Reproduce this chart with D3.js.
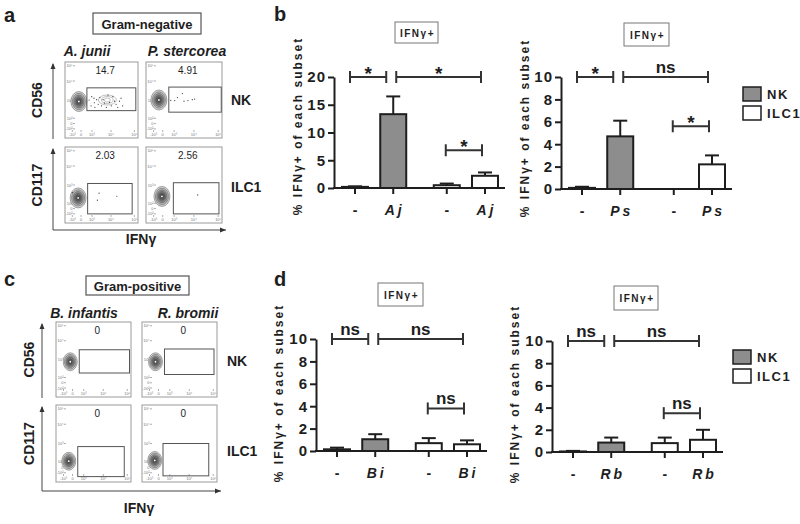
<!DOCTYPE html>
<html><head><meta charset="utf-8">
<script src="https://cdn.jsdelivr.net/npm/d3@7"></script>
<style>body{margin:0;background:#fff}svg{display:block}</style>
</head><body>
<svg id="fig" width="800" height="524"></svg>
<script>
// ---------------- DATA ----------------
const subsets = ["NK", "ILC1"];
const barSubset = ["NK", "NK", "ILC1", "ILC1"];
const ticks20 = [0, 5, 10, 15, 20];
const ticks10 = [0, 2, 4, 6, 8, 10];
const yLabel = "% IFNγ+ of each subset";
const chartTitle = "IFNγ+";

const bLeftLabels = ["-", "Aj", "-", "Aj"];
const bLeftMeans = [0.2, 13.3, 0.5, 2.2];
const bLeftErrTop = [0.3, 16.5, 0.8, 2.8];
const bLeftSig = ["*", "*", "*"];
const bLeftSigAt = [20, 20, 6.8];

const bRightLabels = ["-", "Ps", "-", "Ps"];
const bRightMeans = [0.1, 4.7, 0, 2.2];
const bRightErrTop = [0.2, 6.1, 0, 3.0];
const bRightSig = ["*", "ns", "*"];
const bRightSigAt = [10, 10, 5.6];

const dLeftLabels = ["-", "Bi", "-", "Bi"];
const dLeftMeans = [0.15, 1.05, 0.7, 0.6];
const dLeftErrTop = [0.3, 1.5, 1.15, 0.95];
const dLeftSig = ["ns", "ns", "ns"];
const dLeftSigAt = [10, 10, 3.8];

const dRightLabels = ["-", "Rb", "-", "Rb"];
const dRightMeans = [0.05, 0.85, 0.8, 1.1];
const dRightErrTop = [0.1, 1.3, 1.3, 2.0];
const dRightSig = ["ns", "ns", "ns"];
const dRightSigAt = [10, 10, 3.5];

// flow cytometry panels (normalised 0-100 coordinates)
const flowRowMarkers = ["CD56", "CD117"];
const flowXMarker = "IFNγ";
const speciesNeg = ["A. junii", "P. stercorea"];
const speciesPos = ["B. infantis", "R. bromii"];
const pctNeg = ["14.7", "4.91", "2.03", "2.56"];
const pctPos = ["0", "0", "0", "0"];
const blobNeg = [[19, 48], [17, 50], [18, 33], [21, 35]];
const blobPos = [[19, 47], [18, 47], [17, 27], [17, 28]];
const gateNeg = [[30, 97, 36, 66], [30, 99, 34, 67], [31, 92, 12, 52], [36, 96, 12, 53]];
const gatePos = [[31, 98, 32, 63], [30, 96, 30, 64], [29, 91, 7, 46], [28, 89, 8, 50]];
const minorPopNeg = [[[58, 50]], [], [], []];
const eventsAjNK = [[36.6,54.4],[39.7,52.4],[43.3,50.4],[47.8,53.2],[52.2,50.4],[40.2,46.4],[45.5,44.4],[50,42.3],[56.7,40.3],[63.4,42.3],[70,44.4],[74.6,48.4],[76.8,52.4],[72.3,40.3],[65.6,54.4],[58.9,56.5],[35.7,42.3],[41,40.3],[79,42.3],[67.9,48.4],[33,50],[61,47],[54,46]];
const eventsPsNK = [[32.6,49.6],[37.8,49.2],[47.8,58.5],[50,48.4],[55.2,49.2],[60.9,50.4],[63.9,51.2],[41.3,53.2]];
const eventsAjILC1 = [[46.7,39.3],[44.4,30],[71,35.2],[10,40]];
const eventsPsILC1 = [[68,37]];
const flowYTicks = [95, 75, 50, 26, 19, 12];
const flowYTickLabels = ["10⁵", "10⁴", "10³", "10²", "0", "-10²"];
const flowXTicks = [10, 22, 37, 63, 95];
const flowXTickLabels = ["-10³", "0", "10³", "10⁴", "10⁵"];

// ---------------- DRAWING ----------------
const F = '"Liberation Sans", Arial, Helvetica, sans-serif';
const INK = "#1e1e1e";
const GRAY = "#8d8d8d";
const svg = d3.select("#fig").style("font-family", F);

function txt(g, s, x, y, o = {}) {
  const t = g.append("text").attr("x", x).attr("y", y).text(s)
    .attr("font-family", F).attr("fill", o.fill || INK)
    .attr("font-size", o.size || 14).attr("font-weight", o.weight || "bold")
    .attr("text-anchor", o.anchor || "start");
  if (o.italic) t.attr("font-style", "italic");
  if (o.ls) t.attr("letter-spacing", o.ls);
  if (o.rot) t.attr("transform", `rotate(${o.rot},${x},${y})`);
  return t;
}

// panel letters
txt(svg, "a", 4, 22, {size: 20});
txt(svg, "b", 274, 21, {size: 20});
txt(svg, "c", 4, 286, {size: 20});
txt(svg, "d", 274, 286, {size: 20});

// ---------- flow panels ----------
function flowPanel(cfg) {
  const g = svg.append("g");
  const hb = g.append("g");
  hb.append("rect").attr("x", cfg.head.x).attr("y", cfg.head.y).attr("width", cfg.head.w).attr("height", cfg.head.h)
    .attr("fill", "#fff").attr("stroke", "#555").attr("stroke-width", 1.2);
  txt(hb, cfg.title, cfg.head.x + cfg.head.w / 2, cfg.head.y + cfg.head.h / 2 + 5, {size: 13, anchor: "middle"});
  cfg.species.forEach((s, i) => txt(g, s, cfg.speciesX[i], cfg.speciesY, {size: 14, italic: true, anchor: "middle"}));

  cfg.cols.forEach((cx, ci) => {
    cfg.rows.forEach((ry, ri) => {
      const k = ri * 2 + ci;
      const box = {x: cx[0], y: ry[0], w: cx[1] - cx[0], h: ry[1] - ry[0]};
      const fx = d3.scaleLinear().domain([0, 100]).range([box.x, box.x + box.w]);
      const fy = d3.scaleLinear().domain([0, 100]).range([box.y + box.h, box.y]);
      const p = g.append("g");
      p.append("rect").attr("x", box.x).attr("y", box.y).attr("width", box.w).attr("height", box.h)
        .attr("fill", "#fff").attr("stroke", "#9a9a9a").attr("stroke-width", 1);
      flowYTicks.forEach((v, i) => {
        p.append("line").attr("x1", box.x + 8).attr("x2", box.x + 10).attr("y1", fy(v)).attr("y2", fy(v)).attr("stroke", "#777").attr("stroke-width", 0.6);
        txt(p, flowYTickLabels[i], box.x + 7.5, fy(v) + 1.5, {size: 4, weight: "normal", anchor: "end", fill: "#777"});
      });
      flowXTicks.forEach((v, i) => {
        p.append("line").attr("x1", fx(v)).attr("x2", fx(v)).attr("y1", box.y + box.h - 8).attr("y2", box.y + box.h - 6).attr("stroke", "#777").attr("stroke-width", 0.6);
        txt(p, flowXTickLabels[i], fx(v), box.y + box.h - 2, {size: 4, weight: "normal", anchor: "middle", fill: "#777"});
      });
      const b = cfg.blobs[k];
      const rings = [1, 0.82, 0.64, 0.48, 0.33, 0.18];
      const shade = d3.scaleLinear().domain([1, 0.18]).range(["#d6d6d6", "#3c3c3c"]);
      rings.forEach(r => {
        p.append("ellipse").attr("cx", fx(b[0])).attr("cy", fy(b[1]))
          .attr("rx", cfg.blobR[0] * r).attr("ry", cfg.blobR[1] * r)
          .attr("fill", shade(r)).attr("stroke", "#555").attr("stroke-width", 0.5);
      });
      p.append("circle").attr("cx", fx(b[0])).attr("cy", fy(b[1])).attr("r", 0.9).attr("fill", "#fff");
      (cfg.minor[k] || []).forEach(m => {
        [[9, 5], [6, 3.5], [3, 2]].forEach(rr => {
          p.append("ellipse").attr("cx", fx(m[0])).attr("cy", fy(m[1])).attr("rx", rr[0]).attr("ry", rr[1])
            .attr("fill", "none").attr("stroke", "#999").attr("stroke-width", 0.6);
        });
      });
      const gt = cfg.gates[k];
      p.append("rect").attr("x", fx(gt[0])).attr("y", fy(gt[3])).attr("width", fx(gt[1]) - fx(gt[0])).attr("height", fy(gt[2]) - fy(gt[3]))
        .attr("fill", "none").attr("stroke", "#555").attr("stroke-width", 1);
      p.selectAll("circle.ev").data(cfg.events[k] || []).join("circle").attr("class", "ev")
        .attr("cx", d => fx(d[0])).attr("cy", d => fy(d[1])).attr("r", 0.6).attr("fill", "#333");
      txt(p, cfg.pct[k], fx(55), fy(84), {size: 10, weight: "normal", anchor: "middle"});
    });
  });
  subsets.forEach((s, i) => txt(g, s, cfg.rowLabelX, cfg.rowLabelY[i], {size: 14}));
  flowRowMarkers.forEach((m, i) => {
    const cy = (cfg.rows[i][0] + cfg.rows[i][1]) / 2;
    txt(g, m, cfg.markerX, cy, {size: 14, anchor: "middle", rot: -90});
  });
  const ax = cfg.arrowX, ay = cfg.arrowY;
  const arrow = (x1, y1, x2, y2) => {
    g.append("line").attr("x1", x1).attr("y1", y1).attr("x2", x2).attr("y2", y2).attr("stroke", "#444").attr("stroke-width", 1);
  };
  arrow(ax, cfg.rows[0][1] + 1, ax, cfg.rows[0][0] + 2);
  g.append("path").attr("d", `M${ax - 2.5},${cfg.rows[0][0] + 7} L${ax},${cfg.rows[0][0] + 1} L${ax + 2.5},${cfg.rows[0][0] + 7} Z`).attr("fill", "#333");
  arrow(ax, ay, ax, cfg.rows[1][0] + 2);
  g.append("path").attr("d", `M${ax - 2.5},${cfg.rows[1][0] + 7} L${ax},${cfg.rows[1][0] + 1} L${ax + 2.5},${cfg.rows[1][0] + 7} Z`).attr("fill", "#333");
  arrow(ax, ay, cfg.arrowEnd, ay);
  g.append("path").attr("d", `M${cfg.arrowEnd - 6},${ay - 2.5} L${cfg.arrowEnd},${ay} L${cfg.arrowEnd - 6},${ay + 2.5} Z`).attr("fill", "#333");
  txt(g, flowXMarker, cfg.xLabel[0], cfg.xLabel[1], {size: 14, anchor: "middle"});
}

flowPanel({
  title: "Gram-negative", head: {x: 93, y: 13, w: 108, h: 21},
  species: speciesNeg, speciesX: [87, 187], speciesY: 56,
  cols: [[65, 138], [146, 222]], rows: [[62, 138], [147, 223]],
  blobs: blobNeg, blobR: [8, 10], gates: gateNeg, minor: minorPopNeg,
  events: [eventsAjNK, eventsPsNK, eventsAjILC1, eventsPsILC1], pct: pctNeg,
  rowLabelX: 231, rowLabelY: [105, 192], markerX: 42,
  arrowX: 53, arrowY: 230, arrowEnd: 226, xLabel: [141, 244]
});
flowPanel({
  title: "Gram-positive", head: {x: 86, y: 276, w: 103, h: 19},
  species: speciesPos, speciesX: [84, 188], speciesY: 318,
  cols: [[56, 131], [142, 217]], rows: [[322, 397], [405, 482]],
  blobs: blobPos, blobR: [7, 9], gates: gatePos, minor: [[], [], [], []],
  events: [[], [], [], []], pct: pctPos,
  rowLabelX: 227, rowLabelY: [366, 456], markerX: 34,
  arrowX: 42, arrowY: 491, arrowEnd: 221, xLabel: [139, 513]
});

// ---------- bar charts ----------
function barChart(c) {
  const g = svg.append("g");
  const y = d3.scaleLinear().domain([0, c.max]).range([c.y0, c.yTop]);
  const slots = [0, 1, 2.4, 3.4];
  const xs = d3.scaleLinear().domain([0, 3.4]).range([c.x0 + 21, c.x0 + 151]);
  const xc = i => xs(slots[i]);
  const axisLen = 171;

  g.append("rect").attr("x", c.title[0]).attr("y", c.title[1]).attr("width", c.title[2]).attr("height", c.title[3])
    .attr("fill", "#fff").attr("stroke", "#777").attr("stroke-width", 1);
  txt(g, chartTitle, c.title[0] + c.title[2] / 2 + 1, c.title[1] + c.title[3] / 2 + 4, {size: 10, anchor: "middle", ls: 1.5});

  txt(g, yLabel, c.ylab[0], c.ylab[1], {size: 12, anchor: "middle", ls: 2, rot: -90});

  const ya = g.append("g").attr("transform", `translate(${c.x0},0)`)
    .call(d3.axisLeft(y).tickValues(c.ticks).tickSize(6).tickSizeOuter(0).tickPadding(3));
  ya.select(".domain").attr("stroke", INK).attr("stroke-width", 2);
  ya.selectAll(".tick line").attr("stroke", INK).attr("stroke-width", 2);
  ya.selectAll(".tick text").attr("font-family", F).attr("font-size", 15).attr("font-weight", "bold")
    .attr("fill", INK).attr("letter-spacing", 1).attr("dx", 1);

  g.selectAll("rect.bar").data(c.means.map((m, i) => ({m, i}))).join("rect").attr("class", "bar")
    .filter(d => d.m > 0)
    .attr("x", d => xc(d.i) - 13).attr("width", 26)
    .attr("y", d => y(d.m)).attr("height", d => y(0) - y(d.m))
    .attr("fill", d => barSubset[d.i] === "NK" ? GRAY : "#fff")
    .attr("stroke", INK).attr("stroke-width", 2);

  c.err.forEach((t, i) => {
    if (!(t > 0)) return;
    g.append("line").attr("x1", xc(i)).attr("x2", xc(i)).attr("y1", y(c.means[i])).attr("y2", y(t)).attr("stroke", INK).attr("stroke-width", 2);
    g.append("line").attr("x1", xc(i) - 7).attr("x2", xc(i) + 7).attr("y1", y(t)).attr("y2", y(t)).attr("stroke", INK).attr("stroke-width", 2);
  });

  g.append("line").attr("x1", c.x0 - 1).attr("x2", c.x0 + axisLen).attr("y1", c.y0).attr("y2", c.y0).attr("stroke", INK).attr("stroke-width", 2);
  c.labels.forEach((l, i) => {
    g.append("line").attr("x1", xc(i)).attr("x2", xc(i)).attr("y1", c.y0).attr("y2", c.y0 + 6).attr("stroke", INK).attr("stroke-width", 2);
    txt(g, l, xc(i) + 1.5, c.y0 + 27, {size: 14, anchor: "middle", italic: l !== "-", ls: 3});
  });

  const br = [[xc(0) - 5, xc(1) - 7], [xc(1) + 3, xc(3) - 4], [xc(2) - 1, xc(3) - 3]];
  br.forEach((b, i) => {
    const yy = y(c.sigAt[i]);
    g.append("line").attr("x1", b[0]).attr("x2", b[1]).attr("y1", yy).attr("y2", yy).attr("stroke", "#333").attr("stroke-width", 2);
    [b[0], b[1]].forEach(xx => g.append("line").attr("x1", xx).attr("x2", xx).attr("y1", yy - 6).attr("y2", yy + 6).attr("stroke", "#333").attr("stroke-width", 2));
    const s = c.sig[i];
    if (s === "*") txt(g, s, (b[0] + b[1]) / 2, yy + 3, {size: 19, anchor: "middle"});
    else txt(g, s, (b[0] + b[1]) / 2, yy - 4, {size: 17, anchor: "middle"});
  });

  if (c.legend) {
    subsets.forEach((s, i) => {
      const ly = c.legend[1] + i * 19;
      g.append("rect").attr("x", c.legend[0]).attr("y", ly).attr("width", 18).attr("height", 14)
        .attr("fill", s === "NK" ? GRAY : "#fff").attr("stroke", INK).attr("stroke-width", 1.5);
      txt(g, s, c.legend[0] + 24, ly + 12, {size: 13, ls: 1.5});
    });
  }
}

barChart({x0: 334, y0: 188, yTop: 77, max: 20, ticks: ticks20, labels: bLeftLabels, means: bLeftMeans, err: bLeftErrTop,
  sig: bLeftSig, sigAt: bLeftSigAt, title: [395, 22, 43, 21], ylab: [302, 126], legend: null});
barChart({x0: 561, y0: 189, yTop: 77, max: 10, ticks: ticks10, labels: bRightLabels, means: bRightMeans, err: bRightErrTop,
  sig: bRightSig, sigAt: bRightSigAt, title: [624, 23, 45, 23], ylab: [529, 128], legend: [743, 87]});
barChart({x0: 316, y0: 451, yTop: 339, max: 10, ticks: ticks10, labels: dLeftLabels, means: dLeftMeans, err: dLeftErrTop,
  sig: dLeftSig, sigAt: dLeftSigAt, title: [378, 283, 45, 23], ylab: [283, 393], legend: null});
barChart({x0: 552, y0: 452, yTop: 341, max: 10, ticks: ticks10, labels: dRightLabels, means: dRightMeans, err: dRightErrTop,
  sig: dRightSig, sigAt: dRightSigAt, title: [614, 286, 44, 24], ylab: [519, 394], legend: [733, 350]});
</script>
</body></html>
